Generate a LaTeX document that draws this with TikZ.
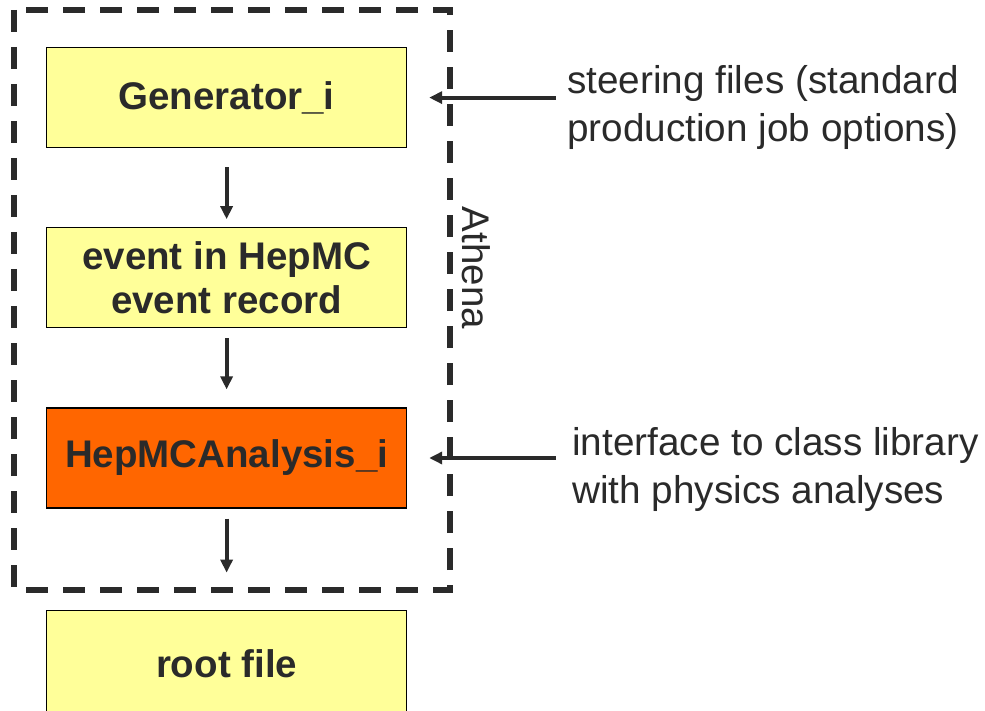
\documentclass[tikz,border=0pt]{standalone}
\usepackage{fontspec}
\setmainfont{Liberation Sans}
\usetikzlibrary{arrows.meta,positioning}
\definecolor{boxyellow}{HTML}{FFFF99}
\definecolor{boxorange}{HTML}{FF6600}
\definecolor{inkgray}{HTML}{2A2A2A}

\begin{document}
\begin{tikzpicture}[x=1pt, y=-1pt,
    node distance=79pt,
    box/.style={draw=black, line width=1.2pt, minimum width=360pt, minimum height=100pt,
      inner sep=0pt, align=center, font=\fontsize{38.5}{44}\selectfont\bfseries, text=inkgray},
    note/.style={align=left, anchor=west, inner sep=0pt, font=\fontsize{38.7}{48}\selectfont, text=inkgray},
    arrow/.style={-{Triangle[length=13pt,width=12pt]}, line width=4pt, draw=inkgray},
    frame/.style={dash pattern=on 22pt off 15pt, line width=6.5pt, draw=inkgray}
  ]
    \useasboundingbox (0,0) rectangle (985,711);
    \node[box, fill=boxyellow, anchor=north west] (gen) at (46,47) {Generator\_i};
    \node[box, fill=boxyellow, below=of gen] (hepmc) {event in HepMC\\event record};
    \node[box, fill=boxorange, below=of hepmc] (ana) {HepMCAnalysis\_i};
    \node[box, fill=boxyellow, minimum height=108pt, below=101pt of ana] (root) {root file};
    \draw[frame] (14,10) rectangle (450,590);
    \node[rotate=-90, font=\fontsize{38.5}{44}\selectfont, text=inkgray] (athena) at (476,268) {Athena};
    \node[note] (steer) at (567,107) {steering files (standard\\production job options)};
    \node[note] (iface) at (572,469) {interface to class library\\with physics analyses};
    \draw[arrow, shorten <=19pt, shorten >=8pt] (gen) -- (hepmc);
    \draw[arrow, shorten <=10pt, shorten >=18pt] (hepmc) -- (ana);
    \draw[arrow, shorten <=10pt, shorten >=37pt] (ana) -- (root);
    \draw[arrow, shorten >=22pt] ([xshift=-11pt]steer.west |- gen.east) -- (gen.east);
    \draw[arrow, shorten >=22pt] ([xshift=-16pt]iface.west |- ana.east) -- (ana.east);
  \end{tikzpicture}
\end{document}
